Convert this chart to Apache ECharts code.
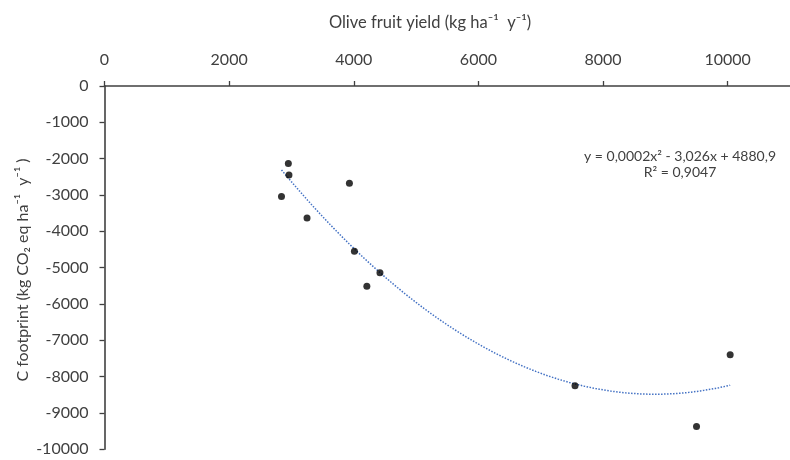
<!DOCTYPE html>
<html>
<head>
<meta charset="utf-8">
<script src="https://cdn.jsdelivr.net/npm/echarts@6/dist/echarts.min.js"></script>
<style>html,body{margin:0;padding:0;background:#fff}#c{width:790px;height:460px}</style>
</head>
<body>
<div id="c"></div>
<script>
// Data
const oliveYield = [2950, 2960, 2840, 3250, 3930, 4010, 4420, 4210, 7550, 10040, 9500];
const cFootprint = [-2130, -2450, -3040, -3630, -2680, -4550, -5140, -5510, -8250, -7400, -9370];
const xTitle = 'Olive fruit yield (kg ha⁻¹  y⁻¹)';
const yTitle = 'C footprint (kg CO₂ eq ha⁻¹  y⁻¹ )';
const eqLine1 = 'y = 0,0002x² - 3,026x + 4880,9';
const eqLine2 = 'R² = 0,9047';

// Least-squares quadratic trendline from the data (like a spreadsheet trendline)
function quadFit(xs, ys) {
  const s = [0,0,0,0,0], t = [0,0,0];
  for (let i = 0; i < xs.length; i++) {
    const x = xs[i] / 1000, y = ys[i];
    let p = 1;
    for (let k = 0; k < 5; k++) { s[k] += p; if (k < 3) t[k] += p * y; p *= x; }
  }
  const A = [[s[0], s[1], s[2], t[0]], [s[1], s[2], s[3], t[1]], [s[2], s[3], s[4], t[2]]];
  for (let i = 0; i < 3; i++) {
    for (let j = i + 1; j < 3; j++) {
      const f = A[j][i] / A[i][i];
      for (let k = i; k < 4; k++) A[j][k] -= f * A[i][k];
    }
  }
  const c = [0,0,0];
  for (let i = 2; i >= 0; i--) {
    let v = A[i][3];
    for (let k = i + 1; k < 3; k++) v -= A[i][k] * c[k];
    c[i] = v / A[i][i];
  }
  return x => { const u = x / 1000; return c[0] + c[1] * u + c[2] * u * u; };
}
const fit = quadFit(oliveYield, cFootprint);
const xMin = Math.min(...oliveYield), xMax = Math.max(...oliveYield);
const trend = [];
for (let i = 0; i <= 120; i++) {
  const x = xMin + (xMax - xMin) * i / 120;
  trend.push([x, fit(x)]);
}

const font = 'Lato';
const txt = '#404040';
const chart = echarts.init(document.getElementById('c'));
chart.setOption({
  animation: false,
  backgroundColor: '#fff',
  textStyle: { fontFamily: font },
  grid: { left: 104.5, top: 86, right: -11.4, bottom: 10.7 },
  xAxis: {
    type: 'value', position: 'top', min: 0, max: 11000, interval: 2000,
    axisLine: { show: true, onZero: false, lineStyle: { color: '#404040', width: 1.6 } },
    axisTick: { show: true, length: 5, lineStyle: { color: '#404040', width: 1.3 } },
    axisLabel: { margin: 18, fontSize: 16, color: txt, fontFamily: font, showMaxLabel: false, formatter: v => String(v) },
    splitLine: { show: false }
  },
  yAxis: {
    type: 'value', min: -10000, max: 0, interval: 1000,
    axisLine: { show: true, onZero: false, lineStyle: { color: '#404040', width: 1.6 } },
    axisTick: { show: true, length: 5, lineStyle: { color: '#404040', width: 1.3 } },
    axisLabel: { margin: 16, fontSize: 16, color: txt, fontFamily: font, formatter: v => String(v) },
    splitLine: { show: false }
  },
  graphic: [
    { type: 'text', x: 430, y: 23, style: { text: xTitle, font: '16.5px ' + font, fill: txt, textAlign: 'center', textVerticalAlign: 'middle' } },
    { type: 'text', x: 23, y: 270, rotation: Math.PI / 2, style: { text: yTitle, font: '16px ' + font, fill: txt, textAlign: 'center', textVerticalAlign: 'middle' } },
    { type: 'text', x: 680, y: 156, style: { text: eqLine1, font: '14px ' + font, fill: txt, textAlign: 'center', textVerticalAlign: 'middle' } },
    { type: 'text', x: 680, y: 172, style: { text: eqLine2, font: '14px ' + font, fill: txt, textAlign: 'center', textVerticalAlign: 'middle' } }
  ],
  series: [
    {
      type: 'line', data: trend, showSymbol: false, smooth: false, silent: true,
      lineStyle: { color: '#4472C4', width: 1.5, type: 'dotted' }, z: 1
    },
    {
      type: 'scatter', data: oliveYield.map((x, i) => [x, cFootprint[i]]),
      symbol: 'circle', symbolSize: 7, itemStyle: { color: '#000' }, z: 2
    }
  ]
});
</script>
</body>
</html>
